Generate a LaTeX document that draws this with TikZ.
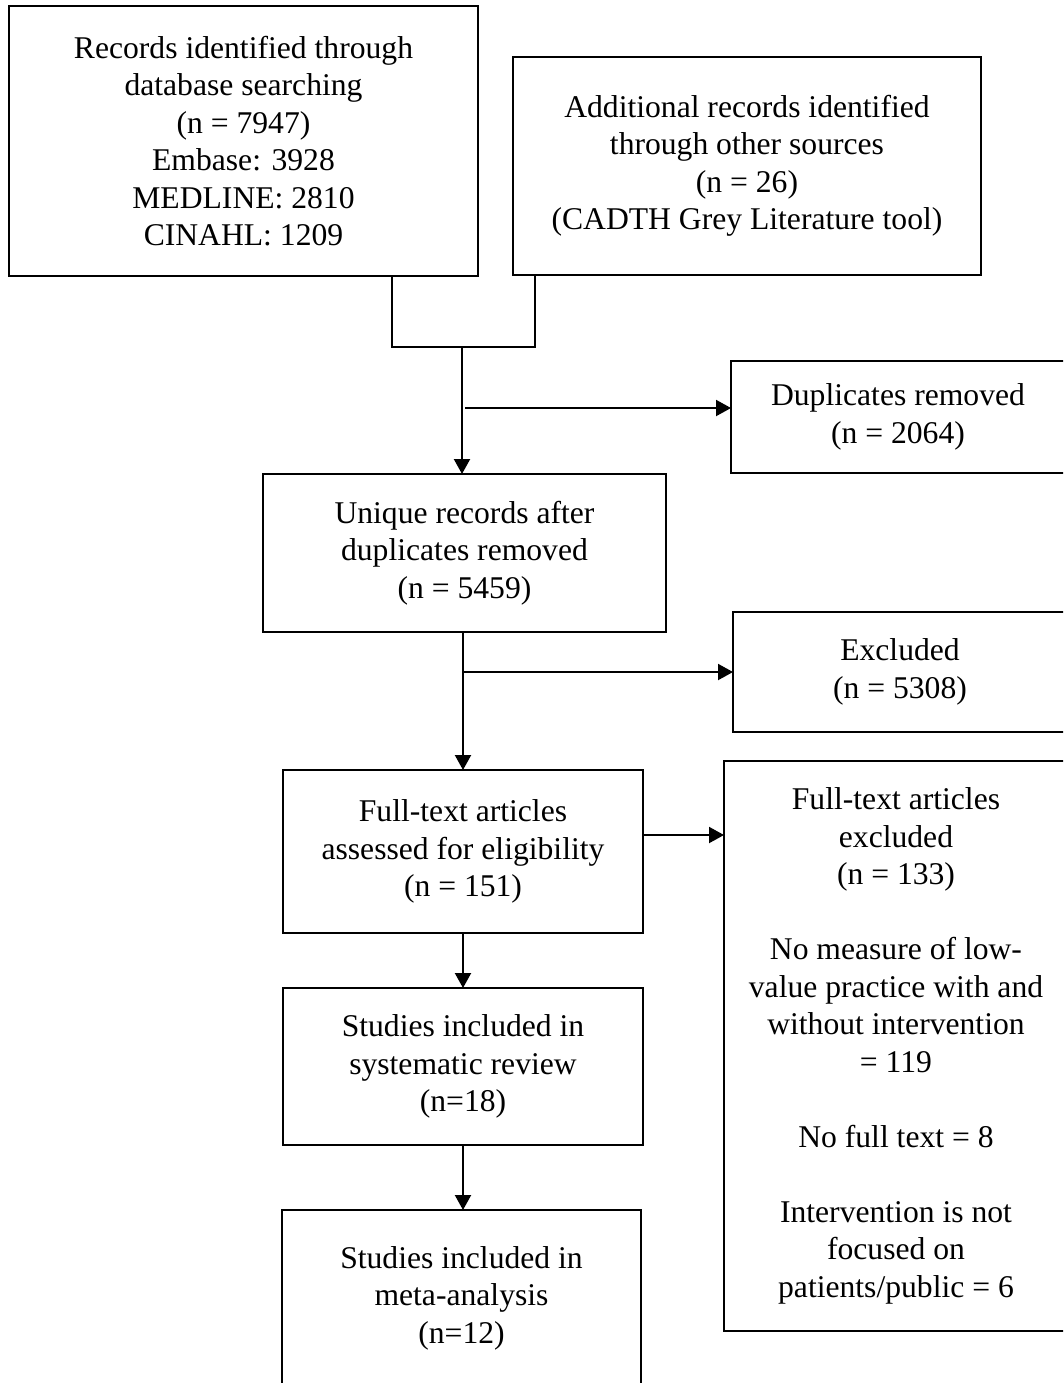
\documentclass[tikz,border=0pt]{standalone}
\usepackage{fontspec}
\setmainfont{Liberation Serif}
\usetikzlibrary{arrows.meta}
\begin{document}
\begin{tikzpicture}[x=0.1mm,y=-0.1mm,
  box/.style={draw,line width=0.6pt,inner sep=0pt,outer sep=0pt,align=center,
    font=\fontsize{9pt}{10.67pt}\selectfont},
  flow/.style={line width=0.6pt,-{Triangle[length=1.5mm,width=1.6mm]}}]
\useasboundingbox (0,0) rectangle (1063,1383);
\clip (0,0) rectangle (1063,1383);
\node[box,minimum width=46.9mm,minimum height=27mm] (rec) at (243.5,141) {Records identified through\\database searching\\(n = 7947)\\Embase: 3928\\MEDLINE: 2810\\CINAHL: 1209};
\node[box,minimum width=46.8mm,minimum height=21.8mm] (add) at (747,166) {Additional records identified\\through other sources\\(n = 26)\\(CADTH Grey Literature tool)};
\node[box,minimum width=33.4mm,minimum height=11.2mm] (dup) at (898,417) {Duplicates removed\\(n = 2064)};
\node[box,minimum width=40.3mm,minimum height=15.8mm] (uniq) at (464.5,553) {Unique records after\\duplicates removed\\(n = 5459)};
\node[box,minimum width=33.4mm,minimum height=12mm] (excl) at (900,672) {Excluded\\(n = 5308)};
\node[box,minimum width=36mm,minimum height=16.3mm] (full) at (463,851.5) {Full-text articles\\assessed for eligibility\\(n = 151)};
\node[box,minimum width=34.4mm,minimum height=57mm] (fullex) at (896,1046) {Full-text articles\\excluded\\(n = 133)\\[10.67pt]No measure of low-\\value practice with and\\without intervention\\= 119\\[10.67pt]No full text = 8\\[10.67pt]Intervention is not\\focused on\\patients/public = 6};
\node[box,minimum width=36mm,minimum height=15.7mm] (sysrev) at (463,1066.5) {Studies included in\\systematic review\\(n=18)};
\node[box,minimum width=35.9mm,minimum height=17.6mm] (meta) at (461.5,1298) {Studies included in\\meta-analysis\\(n=12)};
% join of the two sources
\coordinate (jl) at (392,347);
\coordinate (jr) at (535,347);
\coordinate (jm) at (462,347);
\coordinate (dupfork) at (465,408);
\coordinate (exfork) at (643,835);
\draw[line width=0.6pt] (rec.south -| jl) -- (jl) -- (jr) -- (add.south -| jr);
\draw[flow] (jm) -- (uniq.north -| jm);
\draw[flow] (dupfork) -- (dupfork -| dup.west);
\draw[flow] (full.north |- uniq.south) -- (full.north);
\draw[flow] (full.north |- excl.west) -- (excl.west);
\draw[flow] (exfork) -- (exfork -| fullex.west);
\draw[flow] (full.south) -- (sysrev.north);
\draw[flow] (sysrev.south) -- (meta.north -| sysrev.south);
\end{tikzpicture}
\end{document}
